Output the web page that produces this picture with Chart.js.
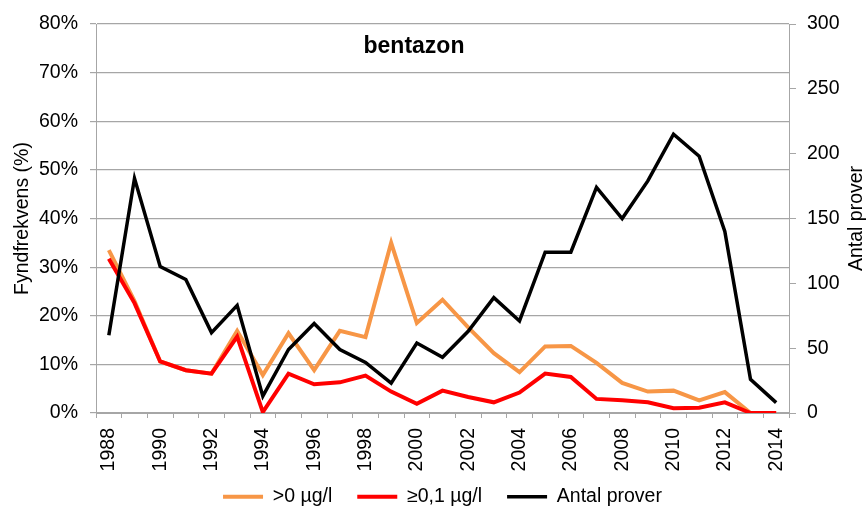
<!DOCTYPE html>
<html>
<head>
<meta charset="utf-8">
<script src="https://cdn.jsdelivr.net/npm/chart.js@4"></script>
<style>
  html, body { margin: 0; padding: 0; background: #fff; }
  #wrap { width: 867px; height: 510px; }
</style>
</head>
<body>
<div id="wrap"><canvas id="chart" width="867" height="510"></canvas></div>
<script>
// Years on the category axis
const years = [1988, 1989, 1990, 1991, 1992, 1993, 1994, 1995, 1996, 1997, 1998, 1999, 2000,
  2001, 2002, 2003, 2004, 2005, 2006, 2007, 2008, 2009, 2010, 2011, 2012, 2013, 2014];

// Detection frequency (%) above 0 µg/l
const overZero = [33.5, 23.0, 10.6, 8.8, 8.1, 16.9, 7.8, 16.4, 8.8, 16.9, 15.6, 35.0, 18.5,
  23.3, 17.6, 12.3, 8.4, 13.7, 13.8, 10.3, 6.2, 4.4, 4.6, 2.6, 4.3, 0, 0];

// Detection frequency (%) at or above 0,1 µg/l
const overLimit = [31.7, 22.6, 10.6, 8.8, 8.1, 15.7, 0.2, 8.1, 5.9, 6.3, 7.7, 4.4, 1.9,
  4.6, 3.3, 2.2, 4.2, 8.1, 7.4, 2.9, 2.6, 2.2, 1.0, 1.1, 2.2, 0, 0];

// Number of samples per year (right axis)
const sampleCount = [60, 181, 113, 103, 62, 83, 13, 49, 69, 49, 39, 23, 54,
  43, 63, 89, 71, 124, 124, 174, 150, 179, 215, 198, 140, 26, 8];

const gridGray = '#a6a6a6';
const fontFamily = '"Liberation Sans", Arial, sans-serif';
const font = { family: fontFamily, size: 19.5 };

// Plot title inside the chart area, plus the right-hand axis title
// (written bottom-to-top like the left one)
const extraText = {
  id: 'extraText',
  afterLayout(chart) {
    // pull the legend up a bit so it sits closer to the year labels
    chart.legend.top -= 10;
  },
  afterDraw(chart) {
    const ctx = chart.ctx;
    const area = chart.chartArea;
    ctx.save();
    ctx.fillStyle = '#000';
    ctx.font = 'bold 23px ' + fontFamily;
    ctx.textAlign = 'center';
    ctx.textBaseline = 'alphabetic';
    ctx.fillText('bentazon', 414, 53);

    ctx.font = '19.5px ' + fontFamily;
    ctx.textBaseline = 'middle';
    ctx.translate(857, (area.top + area.bottom) / 2);
    ctx.rotate(-Math.PI / 2);
    ctx.fillText('Antal prover', 0, 0);
    ctx.restore();
  }
};

new Chart(document.getElementById('chart'), {
  type: 'line',
  data: {
    labels: years,
    datasets: [
      {
        label: '>0 µg/l',
        data: overZero,
        borderColor: '#f79646',
        backgroundColor: '#f79646',
        borderWidth: 4,
        pointRadius: 0,
        tension: 0,
        yAxisID: 'y',
        order: 3
      },
      {
        label: '≥0,1 µg/l',
        data: overLimit,
        borderColor: '#ff0000',
        backgroundColor: '#ff0000',
        borderWidth: 4,
        pointRadius: 0,
        tension: 0,
        yAxisID: 'y',
        order: 2
      },
      {
        label: 'Antal prover',
        data: sampleCount,
        borderColor: '#000000',
        backgroundColor: '#000000',
        borderWidth: 3.5,
        pointRadius: 0,
        tension: 0,
        yAxisID: 'y1',
        order: 1
      }
    ]
  },
  options: {
    responsive: false,
    animation: false,
    events: [],
    layout: { padding: { left: 18, right: 0, top: 24, bottom: 0 } },
    plugins: {
      tooltip: { enabled: false },
      legend: {
        position: 'bottom',
        maxHeight: 38,
        labels: {
          color: '#000',
          font: font,
          padding: 25,
          usePointStyle: true,
          pointStyle: 'line',
          pointStyleWidth: 40,
          sort: (a, b) => a.datasetIndex - b.datasetIndex
        }
      }
    },
    scales: {
      x: {
        offset: true,
        grid: {
          offset: true,
          drawOnChartArea: false,
          color: gridGray,
          tickLength: 5
        },
        border: { color: gridGray },
        ticks: {
          color: '#000',
          font: font,
          autoSkip: false,
          minRotation: 90,
          maxRotation: 90,
          padding: 10,
          callback: (v, i) => (years[i] % 2 === 0 ? String(years[i]) : '')
        },
        afterFit: s => { s.height = 59; }
      },
      y: {
        position: 'left',
        min: 0,
        max: 80,
        grid: {
          color: c => (c.tick && c.tick.value % 10 === 0 ? gridGray : 'rgba(0,0,0,0)'),
          tickColor: gridGray,
          tickLength: 6,
          lineWidth: 1.2
        },
        border: { color: gridGray },
        ticks: {
          stepSize: 5,
          color: '#000',
          font: font,
          padding: 12,
          callback: v => (v % 10 === 0 ? v + '%' : '')
        },
        title: {
          display: true,
          text: 'Fyndfrekvens (%)',
          color: '#000',
          font: font,
          padding: { top: -7, bottom: 0 }
        },
        afterFit: s => { s.width = 78; }
      },
      y1: {
        position: 'right',
        min: 0,
        max: 300,
        grid: {
          drawOnChartArea: false,
          color: gridGray,
          tickLength: 7
        },
        border: { color: gridGray },
        ticks: {
          stepSize: 50,
          color: '#000',
          font: font,
          padding: 11
        },
        afterFit: s => { s.width = 78; }
      }
    }
  },
  plugins: [extraText]
});
</script>
</body>
</html>
